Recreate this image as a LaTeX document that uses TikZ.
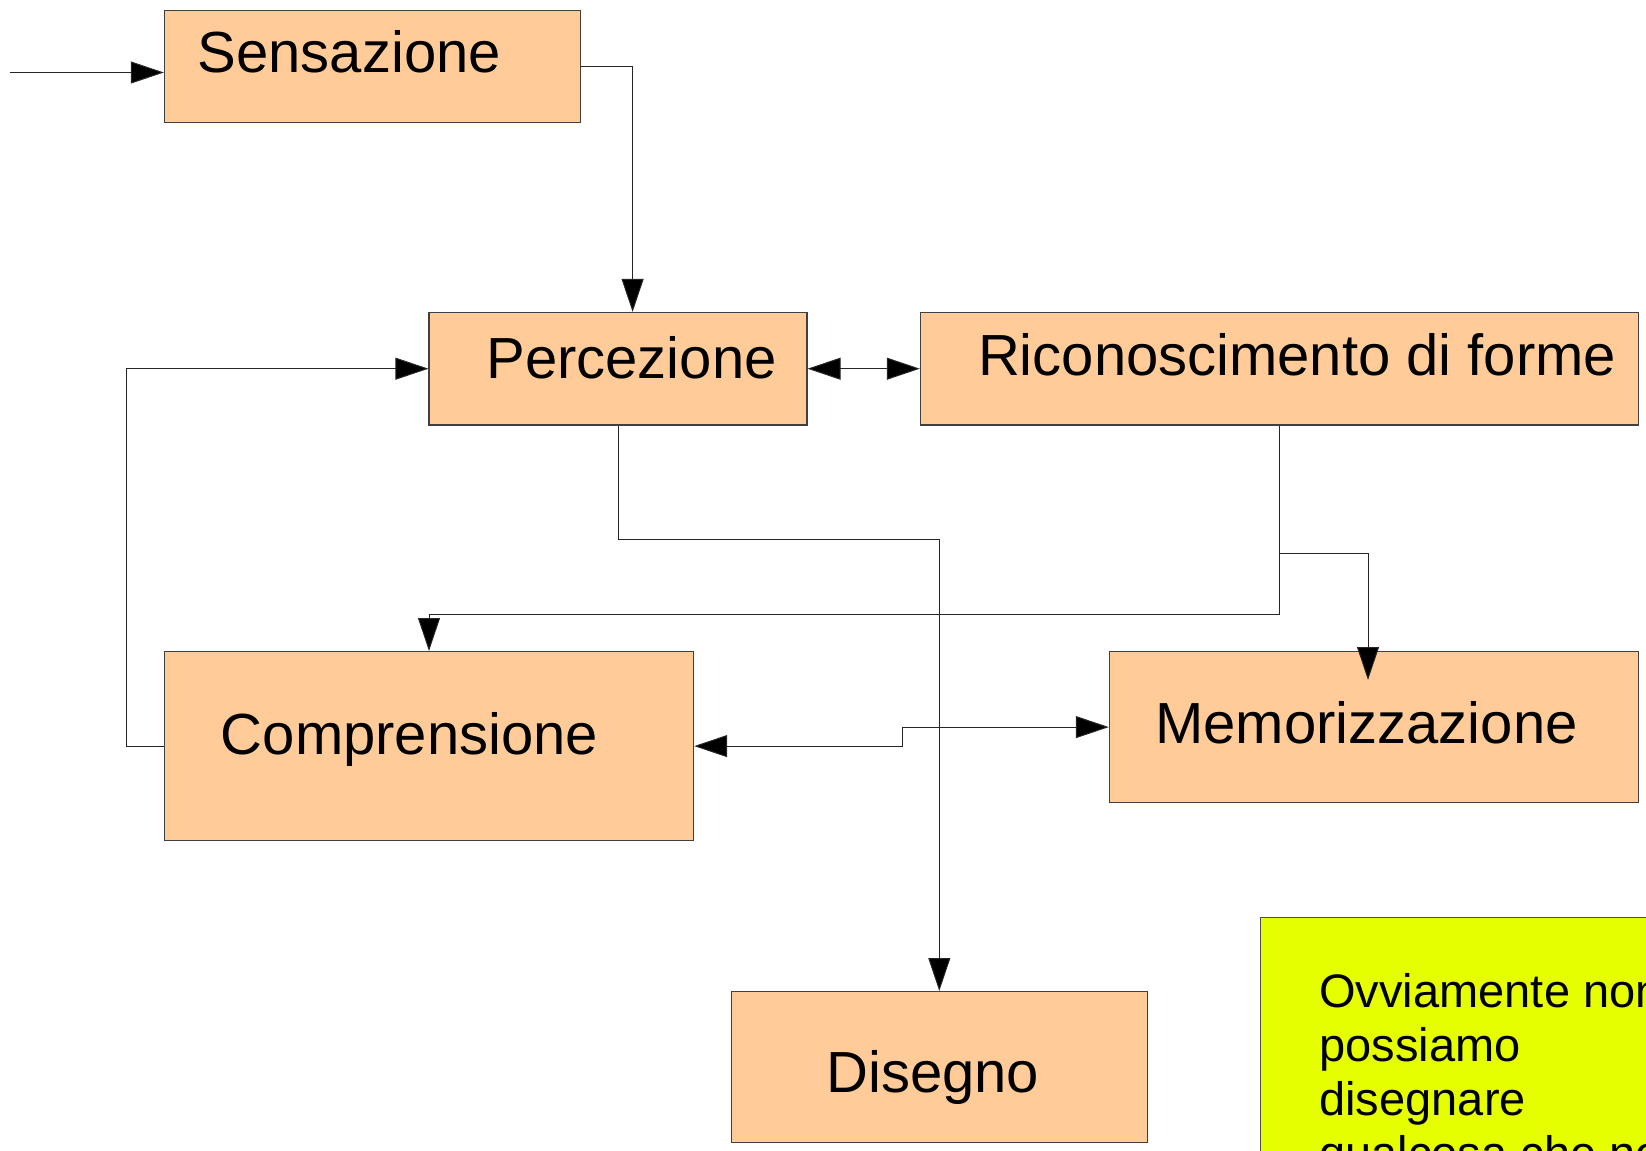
\documentclass[tikz,border=0pt]{standalone}
\usepackage{fontspec}
\setmainfont{Liberation Sans}
\usetikzlibrary{arrows.meta,calc,positioning}
\definecolor{peach}{RGB}{255,204,153}
\definecolor{lemon}{RGB}{230,255,0}
\tikzset{
  box/.style={draw=black!75, fill=peach, line width=0.6pt, inner sep=0pt, anchor=north west},
  boxtxt/.style={anchor=base west, inner sep=0pt, font=\fontsize{29}{34}\selectfont},
  notebox/.style={draw=black!70, fill=lemon, line width=0.6pt, inner sep=0pt, anchor=north west},
  notetxt/.style={anchor=base west, inner sep=0pt, align=left, font=\fontsize{23.5}{27}\selectfont},
  flow/.style={-{Triangle[length=16.5pt,width=11pt,fill=black]}, line width=0.5pt, draw=black!85},
  flowboth/.style={{Triangle[length=16.5pt,width=11pt,fill=black]}-{Triangle[length=16.5pt,width=11pt,fill=black]}, line width=0.5pt, draw=black!85}
}
\begin{document}
\begin{tikzpicture}[x=0.5pt,y=-0.5pt]
  \useasboundingbox (0,0) rectangle (1646,1151);
  \clip (0,0) rectangle (1646,1151);
  % Boxes
  \node[box, minimum width=207.9pt, minimum height=56.2pt] (sens) at (163.8,9.5) {};
  \node[box, minimum width=189pt, minimum height=56.2pt] (perc) at (428.4,311.9) {};
  \node[box, minimum width=359.1pt, minimum height=56.2pt] (ricon) at (919.8,311.9) {};
  \node[box, minimum width=264.6pt, minimum height=94.5pt] (comp) at (163.8,651) {};
  \node[box, minimum width=264.6pt, minimum height=75.5pt] (memo) at (1108.8,651) {};
  \node[box, minimum width=207.9pt, minimum height=75.5pt] (dis) at (730.8,991) {};
  \node[notebox, minimum width=250pt, minimum height=200pt] (note) at (1260,916.7) {};
  % Texts
  \node[boxtxt] (sens-t) at (197.4,72.5) {Sensazione};
  \node[boxtxt] (perc-t) at (486,378) {Percezione};
  \node[boxtxt] (ricon-t) at (977.6,375) {Riconoscimento di forme};
  \node[boxtxt] (comp-t) at (220.5,754) {Comprensione};
  \node[boxtxt] (memo-t) at (1155,743) {Memorizzazione};
  \node[boxtxt] (dis-t) at (826,1092) {Disegno};
  % base of a multi-line node sits on its last line
  \node[notetxt] (note-t) at (1319,1169) {Ovviamente non\\possiamo\\disegnare\\qualcosa che non};
  % Connectors
  \coordinate (in) at (9.5,72.5);
  \draw[flow] (in) -- (in -| sens.west);
  \draw[flow] (sens.east) -| ([xshift=7.3pt]perc.north);
  \draw[flowboth] (perc.east) -- (ricon.west);
  \draw[flow] (comp.west) -- ++(-37.8,0) |- (perc.west);
  \draw[flow] (perc.south) -- ++(0,114.4) -| (dis.north);
  \draw[flow] (ricon.south) -- ++(0,189) -| (comp.north);
  \coordinate (split) at ($(ricon.south)+(0,128.1)$);
  \draw[flow] (split) -| ([xshift=-3pt,yshift=-14.5pt]memo.north);
  \draw[flowboth] (comp.east) -- ++(208,0) |- (memo.west);
\end{tikzpicture}
\end{document}
